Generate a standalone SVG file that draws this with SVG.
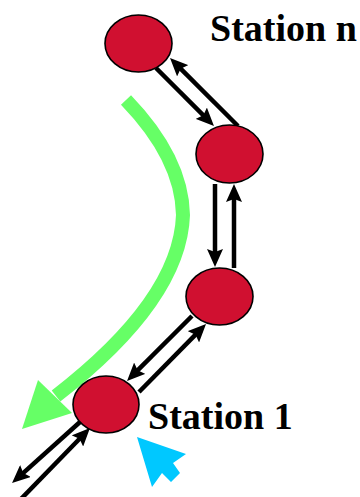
<svg xmlns="http://www.w3.org/2000/svg" width="360" height="497" viewBox="0 0 360 497">
<style>
.node{fill:#D01030;stroke:#000;stroke-width:1.6}
.conn{stroke:#000;stroke-width:4.5;fill:none;marker-end:url(#ah)}
.lbl{font-family:"Liberation Serif","Times New Roman",serif;font-weight:bold;font-size:38px;fill:#000}
</style>
<defs>
<marker id="ah" markerUnits="userSpaceOnUse" viewBox="0 0 18 16" markerWidth="18" markerHeight="16" refX="8" refY="8" orient="auto">
<path d="M0,0 L18,8 L0,16 L3,8 z" fill="#000"/>
</marker>
</defs>
<rect width="360" height="497" fill="#fff"/>
<g id="flow">
<path d="M126,100 Q182,158 183,215 Q180,300 56,396" fill="none" stroke="#66FF66" stroke-width="14"/>
<polygon points="22,429 38,380 72,413" fill="#66FF66"/>
</g>
<g id="connectors">
<line class="conn" x1="156" y1="68" x2="206.9" y2="118.9"/>
<line class="conn" x1="238" y1="126" x2="177.1" y2="65.1"/>
<line class="conn" x1="215" y1="184" x2="215" y2="257"/>
<line class="conn" x1="234" y1="268" x2="234" y2="194"/>
<line class="conn" x1="192" y1="316" x2="134.1" y2="373.9"/>
<line class="conn" x1="139" y1="392" x2="199" y2="331.1"/>
<line class="conn" x1="80" y1="422" x2="19.5" y2="476.3"/>
<line class="conn" x1="20" y1="500" x2="83" y2="435.2"/>
</g>
<g id="station-n">
<ellipse class="node" cx="138.5" cy="43.5" rx="33.5" ry="28.5"/>
<text class="lbl" x="210" y="41">Station n</text>
</g>
<g id="station-2">
<ellipse class="node" cx="229.5" cy="154" rx="33.5" ry="29"/>
</g>
<g id="station-3">
<ellipse class="node" cx="219.5" cy="296.5" rx="33.5" ry="28.5"/>
</g>
<g id="station-1">
<ellipse class="node" cx="106" cy="404.5" rx="33" ry="28.5"/>
<text class="lbl" x="148" y="429">Station 1</text>
</g>
<g id="cursor">
<polygon points="137,437 186,454 173,463 180,473 171,482 162,473 152,487" fill="#00C8FF"/>
</g>
</svg>
